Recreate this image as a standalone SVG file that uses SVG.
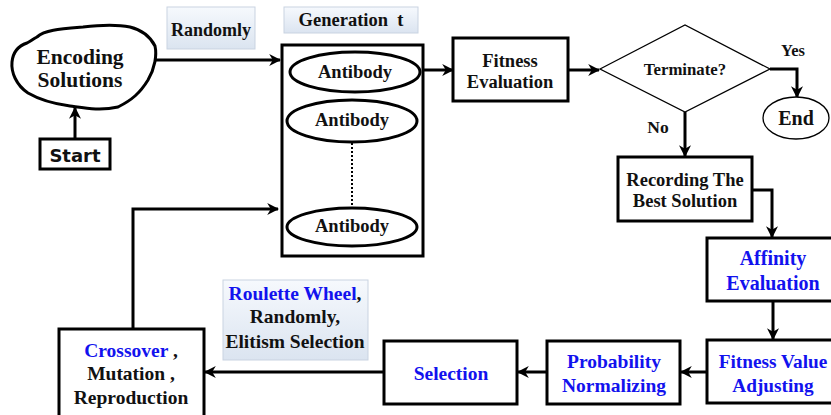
<svg xmlns="http://www.w3.org/2000/svg" width="831" height="415" viewBox="0 0 831 415">
<defs>
<linearGradient id="lg" x1="0" y1="0" x2="0" y2="1">
<stop offset="0" stop-color="#f6f9fd"/>
<stop offset="1" stop-color="#dbe4f0"/>
</linearGradient>
<marker id="ah" viewBox="0 0 10 10" refX="9" refY="5" markerWidth="4" markerHeight="4" markerUnits="strokeWidth" orient="auto">
<path d="M0,0 L10,5 L0,10 L3,5 Z" fill="#000"/>
</marker>
<marker id="ahs" viewBox="0 0 10 10" refX="9" refY="5" markerWidth="7" markerHeight="7" markerUnits="strokeWidth" orient="auto">
<path d="M0,0 L10,5 L0,10 L3,5 Z" fill="#000"/>
</marker>
</defs>
<style>
text{font-family:"Liberation Serif","Times New Roman",serif;font-weight:bold;text-anchor:middle;fill:#111}
.b{fill:#1212ee}
.box{fill:#fff;stroke:#000;stroke-width:3}
.thin{fill:#fff;stroke:#000;stroke-width:1.3}
.lbl{fill:url(#lg);stroke:#c9d3e1;stroke-width:1}
.c{fill:none;stroke:#000;stroke-width:3;marker-end:url(#ah)}
.cs{fill:none;stroke:#000;stroke-width:1.3;marker-end:url(#ahs)}
</style>

<g id="connectors">
<path class="c" d="M75,140 V108"/>
<path class="c" d="M155,60 H280"/>
<path class="c" d="M423,70 H453"/>
<path class="c" d="M568,70 H599"/>
<path class="c" d="M770,69 H797 V97"/>
<path class="c" d="M685,112 V156"/>
<path class="c" d="M752,190 H772 V237"/>
<path class="c" d="M773,301 V339"/>
<path class="c" d="M707,372 H681"/>
<path class="c" d="M547,372 H518"/>
<path class="c" d="M384,372 H205"/>
<path class="c" d="M133,329 V209 H278"/>
</g>

<g id="encoding">
<path d="M37,37 C45,30 60,29 83,27 C100,25 115,24 130,27 C142,30 150,36 155,46 C157,55 155,68 148,80 C140,93 132,100 118,107 C100,111 85,108 70,106 C55,104 40,100 28,93 C16,85 11,72 12,62 C13,52 18,46 27,43 C31,41 33,39 37,37 Z" fill="#fff" stroke="#000" stroke-width="3"/>
<text x="80" y="64" font-size="21.5">Encoding</text>
<text x="80" y="87" font-size="21.5">Solutions</text>
</g>

<g id="start">
<rect class="box" x="40" y="139" width="70" height="30"/>
<text x="75" y="162" font-size="18" style="font-family:'DejaVu Sans',Verdana,sans-serif">Start</text>
</g>

<g id="randomly-label">
<rect class="lbl" x="167" y="7" width="88" height="42"/>
<text x="211" y="36" font-size="18">Randomly</text>
</g>

<g id="generation-label">
<rect class="lbl" x="284" y="7" width="134" height="26"/>
<text x="351" y="26" font-size="18.5" xml:space="preserve">Generation  t</text>
</g>

<g id="population">
<rect class="box" x="282" y="45" width="141" height="211"/>
<ellipse class="box" cx="355" cy="72" rx="65" ry="20"/>
<text x="355" y="78" font-size="18.5">Antibody</text>
<ellipse class="box" cx="352" cy="121" rx="65" ry="21"/>
<text x="352" y="126" font-size="18.5">Antibody</text>
<path d="M352,143 V208" stroke="#000" stroke-width="2" stroke-dasharray="2,2" fill="none"/>
<ellipse class="box" cx="352" cy="227" rx="65" ry="19"/>
<text x="352" y="232" font-size="18.5">Antibody</text>
</g>

<g id="fitness-eval">
<rect class="box" x="453" y="38" width="115" height="63"/>
<text x="510" y="67" font-size="18.5">Fitness</text>
<text x="510" y="88" font-size="18.5">Evaluation</text>
</g>

<g id="terminate">
<polygon class="thin" points="600,69 685,25 770,69 685,112"/>
<text x="685" y="75" font-size="16.8">Terminate?</text>
</g>

<text x="793" y="56" font-size="16.5">Yes</text>
<text x="658" y="133" font-size="17.5">No</text>

<g id="end">
<ellipse class="thin" cx="796" cy="118" rx="33" ry="21"/>
<text x="796" y="125" font-size="20">End</text>
</g>

<g id="recording">
<rect class="box" x="618" y="157" width="134" height="64"/>
<text x="685" y="186" font-size="18.5">Recording The</text>
<text x="685" y="207" font-size="18.5">Best Solution</text>
</g>

<g id="affinity">
<rect class="box" x="707" y="238" width="130" height="63"/>
<text class="b" x="773" y="265" font-size="20">Affinity</text>
<text class="b" x="773" y="290" font-size="20">Evaluation</text>
</g>

<g id="fitness-adjust">
<rect class="box" x="707" y="340" width="130" height="63"/>
<text class="b" x="773" y="368" font-size="19.3">Fitness Value</text>
<text class="b" x="773" y="392" font-size="19.3">Adjusting</text>
</g>

<g id="probability">
<rect class="box" x="547" y="341" width="133" height="63"/>
<text class="b" x="614" y="368" font-size="19.5">Probability</text>
<text class="b" x="614" y="392" font-size="19.5">Normalizing</text>
</g>

<g id="selection">
<rect class="box" x="384" y="341" width="133" height="63"/>
<text class="b" x="451" y="380" font-size="19.5">Selection</text>
</g>

<g id="operators">
<rect class="box" x="59" y="329" width="145" height="92"/>
<text x="131" y="357" font-size="19.5"><tspan class="b">Crossover</tspan> ,</text>
<text x="131" y="380" font-size="19.5">Mutation ,</text>
<text x="131" y="404" font-size="19.5">Reproduction</text>
</g>

<g id="selection-label">
<rect class="lbl" x="223" y="280" width="145" height="80"/>
<text x="295" y="300" font-size="19.5"><tspan class="b">Roulette Wheel</tspan>,</text>
<text x="295" y="323" font-size="19.5">Randomly,</text>
<text x="295" y="348" font-size="19.5">Elitism Selection</text>
</g>
</svg>
